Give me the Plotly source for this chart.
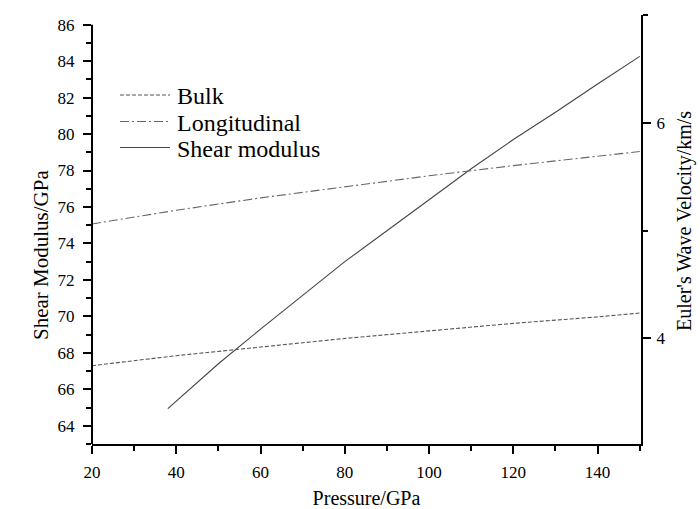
import plotly.graph_objects as go

# Data
pressure_v = [20, 40, 60, 80, 100, 120, 140, 150]
bulk_v = [3.747, 3.84, 3.92, 4.00, 4.07, 4.14, 4.20, 4.236]
long_v = [5.063, 5.19, 5.305, 5.41, 5.51, 5.605, 5.69, 5.735]

pressure_s = [38, 40, 50, 60, 70, 80, 90, 100, 110, 120, 130, 140, 150]
shear_mod = [64.94, 65.35, 67.4, 69.3, 71.17, 73.0, 74.7, 76.4, 78.1, 79.7, 81.2, 82.75, 84.26]

x_ticks = [20, 40, 60, 80, 100, 120, 140]
y_ticks = [64, 66, 68, 70, 72, 74, 76, 78, 80, 82, 84, 86]
y2_ticks = [4, 6]

series_names = ["Bulk", "Longitudinal", "Shear modulus"]
series_colors = ["#555555", "#666666", "#444444"]
series_dash = ["4px,2px", "9px,3px,2px,3px", "solid"]

x_title = "Pressure/GPa"
y_title = "Shear Modulus/GPa"
y2_title = "Euler's Wave Velocity/km/s"

FONT = "Liberation Serif, Times New Roman, serif"

fig = go.Figure()
fig.add_trace(go.Scatter(x=pressure_v, y=bulk_v, name=series_names[0], mode="lines", yaxis="y2",
                         line=dict(color=series_colors[0], width=1.1, dash=series_dash[0])))
fig.add_trace(go.Scatter(x=pressure_v, y=long_v, name=series_names[1], mode="lines", yaxis="y2",
                         line=dict(color=series_colors[1], width=1.1, dash=series_dash[1])))
fig.add_trace(go.Scatter(x=pressure_s, y=shear_mod, name=series_names[2], mode="lines", yaxis="y",
                         line=dict(color=series_colors[2], width=1.1, dash=series_dash[2])))

axis_common = dict(
    ticks="outside", tickcolor="black", tickwidth=1.5, ticklen=8,
    showgrid=False, zeroline=False, automargin=False,
    tickfont=dict(family=FONT, size=17, color="black"),
)

# plot area in pixels: left 92, right 641, top 15, bottom 444
PL, PR, PT, PB = 92, 641, 15, 444


def px_to_paper(px, py):
    return (px - PL) / (PR - PL), (PB - py) / (PB - PT)


fig.update_layout(
    width=700, height=509,
    margin=dict(l=PL, r=700 - PR, t=PT, b=509 - PB),
    paper_bgcolor="white", plot_bgcolor="white",
    font=dict(family=FONT, color="black"),
    showlegend=False,
    xaxis=dict(range=[20, 150.3], tickvals=x_ticks, showline=True, linecolor="black", linewidth=2,
               minor=dict(dtick=10, ticks="outside", ticklen=5, tickcolor="black", tickwidth=1.5),
               title=dict(text=x_title, font=dict(family=FONT, size=20), standoff=12),
               ticklabelstandoff=4,
               **axis_common),
    yaxis=dict(range=[63.0, 86.53], tickvals=y_ticks, showline=False,
               minor=dict(dtick=1, ticks="outside", ticklen=5, tickcolor="black", tickwidth=1.5),
               ticklabelstandoff=5,
               **axis_common),
    yaxis2=dict(range=[3.02, 7.003], tickvals=y2_ticks, overlaying="y", side="right",
                showline=True, linecolor="black", linewidth=2,
                minor=dict(dtick=1, ticks="outside", ticklen=5, tickcolor="black", tickwidth=1.5),
                ticklabelstandoff=2,
                **axis_common),
)

# left axis line only up to the top labelled tick
fig.add_shape(type="line", xref="paper", yref="y", x0=0, x1=0, y0=63.0, y1=86,
              line=dict(color="black", width=2))

# vertical axis titles
tx, ty = px_to_paper(41, 255)
fig.add_annotation(xref="paper", yref="paper", x=tx, y=ty, text=y_title, textangle=-90,
                   showarrow=False, xanchor="center", yanchor="middle",
                   font=dict(family=FONT, size=21, color="black"))
tx, ty = px_to_paper(685, 221)
fig.add_annotation(xref="paper", yref="paper", x=tx, y=ty, text=y2_title, textangle=-90,
                   showarrow=False, xanchor="center", yanchor="middle",
                   font=dict(family=FONT, size=20, color="black"))

# legend drawn manually (sample line + label)
legend_rows_py = [95, 121.5, 147.5]
for name, color, dash, py in zip(series_names, series_colors, series_dash, legend_rows_py):
    x0, y0 = px_to_paper(120, py)
    x1, _ = px_to_paper(170, py)
    fig.add_shape(type="line", xref="paper", yref="paper", x0=x0, x1=x1, y0=y0, y1=y0,
                  line=dict(color=color, width=1.1, dash=dash))
    tx, ty = px_to_paper(175, py + 1.5)
    fig.add_annotation(xref="paper", yref="paper", x=tx, y=ty, text=name, showarrow=False,
                       xanchor="left", yanchor="middle",
                       font=dict(family=FONT, size=24, color="black"))

fig.write_html("out.html")
